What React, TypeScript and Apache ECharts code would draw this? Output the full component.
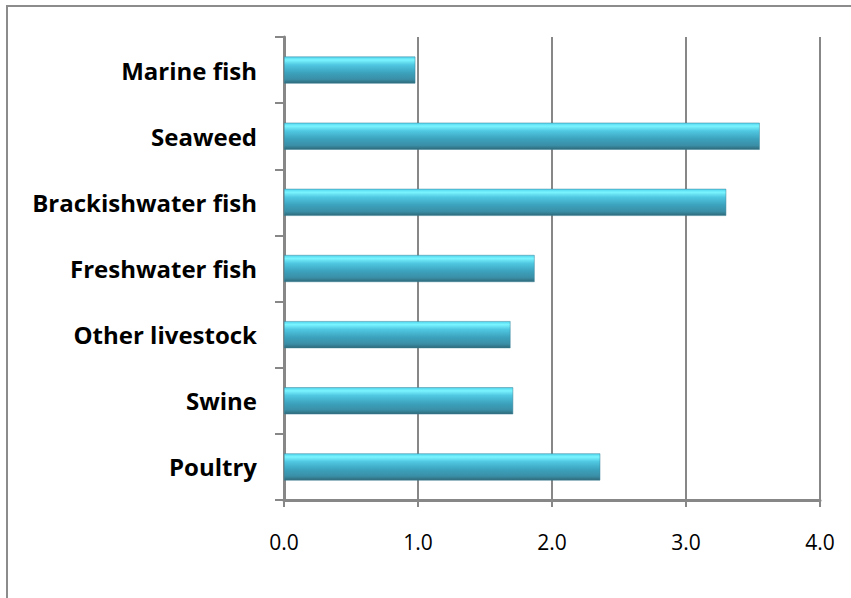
import React, { useEffect, useRef } from "react";
import * as echarts from "echarts";

const categories = [
  "Poultry",
  "Swine",
  "Other livestock",
  "Freshwater fish",
  "Brackishwater fish",
  "Seaweed",
  "Marine fish",
];
const values = [2.36, 1.71, 1.69, 1.87, 3.3, 3.55, 0.98];
const xTicks = [0, 1, 2, 3, 4];

export default function App() {
  const ref = useRef<HTMLDivElement>(null);
  useEffect(() => {
    if (!ref.current) return;
    const chart = echarts.init(ref.current, undefined, { renderer: "svg" });
    const gray = "#878787";
    chart.setOption({
      animation: false,
      backgroundColor: "#ffffff",
      graphic: [
        {
          type: "rect",
          shape: { x: 7, y: 6, width: 900, height: 650 },
          style: { fill: "none", stroke: "#8c8c8c", lineWidth: 2 },
          silent: true,
        },
      ],
      grid: { left: 284, right: 31, top: 37, bottom: 98, containLabel: false },
      xAxis: {
        type: "value",
        min: xTicks[0],
        max: xTicks[xTicks.length - 1],
        interval: 1,
        axisLine: { show: true, lineStyle: { color: gray, width: 3 } },
        axisTick: { show: true, length: 7, lineStyle: { color: gray, width: 2 } },
        splitLine: { show: true, lineStyle: { color: gray, width: 2 } },
        axisLabel: {
          formatter: (v: number) => v.toFixed(1),
          fontFamily: "'Open Sans', sans-serif",
          fontSize: 21,
          color: "#000",
          margin: 31,
        },
      },
      yAxis: {
        type: "category",
        data: categories,
        axisLine: { show: true, lineStyle: { color: gray, width: 3 } },
        axisTick: { show: true, length: 9, lineStyle: { color: gray, width: 2 } },
        splitLine: { show: false },
        axisLabel: {
          fontFamily: "'Open Sans', sans-serif",
          fontWeight: "bold",
          fontSize: 24,
          color: "#000",
          margin: 27,
        },
      },
      series: [
        {
          type: "bar",
          data: values,
          barWidth: 27,
          itemStyle: {
            color: new echarts.graphic.LinearGradient(0, 0, 0, 1, [
              { offset: 0, color: "#4fd3ec" },
              { offset: 0.12, color: "#7af5ff" },
              { offset: 0.3, color: "#50c8e2" },
              { offset: 0.6, color: "#3ca2bd" },
              { offset: 0.85, color: "#3a8ea6" },
              { offset: 1, color: "#2e6878" },
            ]),
            borderColor: "#3a8399",
            borderWidth: 0.5,
          },
        },
      ],
    });
    return () => chart.dispose();
  }, []);
  return <div ref={ref} style={{ width: 851, height: 598, position: "absolute", left: 0, top: 0 }} />;
}
